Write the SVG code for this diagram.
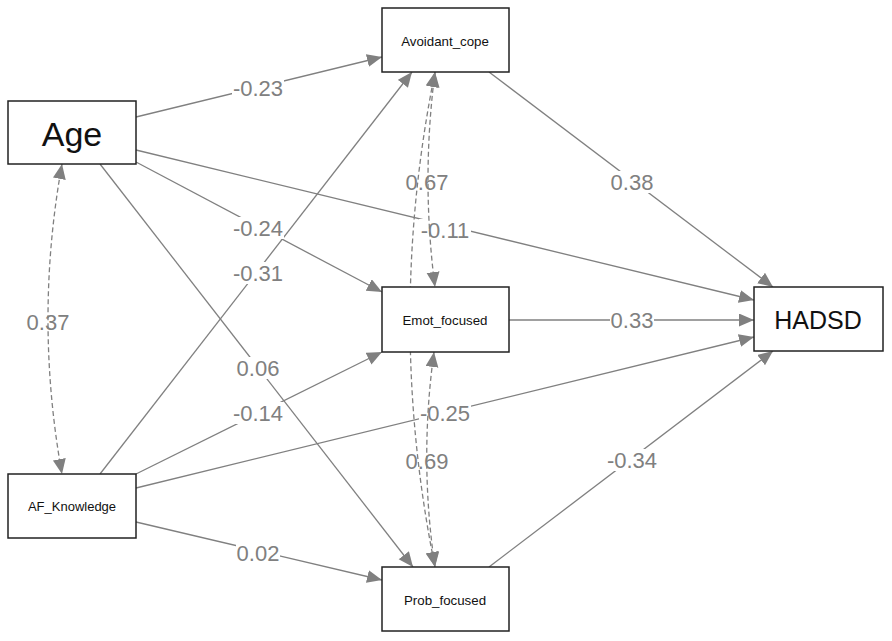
<svg xmlns="http://www.w3.org/2000/svg" width="892" height="641" viewBox="0 0 892 641">
<style>
.node{fill:#fff;stroke:#222;stroke-width:1.5}
.nt{font-family:"Liberation Sans",Arial,sans-serif;fill:#111;text-anchor:middle;dominant-baseline:central}
.e{fill:none;stroke:#808080;stroke-width:1.3}
.d{fill:none;stroke:#808080;stroke-width:1.3;stroke-dasharray:5,3}
.lb{fill:#fff}
.lt{font-family:"Liberation Sans",Arial,sans-serif;font-size:22px;fill:#808080;text-anchor:middle;dominant-baseline:central}
</style>
<defs>
<marker id="ah" markerUnits="userSpaceOnUse" markerWidth="16" markerHeight="14" refX="15" refY="6.5" orient="auto-start-reverse" viewBox="0 0 16 14">
<path d="M0,0 L15,6.5 L0,13 z" fill="#808080"/>
</marker>
</defs>
<rect width="892" height="641" fill="#fff"/>
<g id="connectors">
<line class="e" x1="136" y1="117" x2="382" y2="57" marker-end="url(#ah)"/>
<line class="e" x1="136" y1="162" x2="382" y2="292" marker-end="url(#ah)"/>
<line class="e" x1="136" y1="150" x2="754" y2="300" marker-end="url(#ah)"/>
<line class="e" x1="100" y1="164" x2="413" y2="567" marker-end="url(#ah)"/>
<line class="e" x1="100" y1="474" x2="412" y2="72" marker-end="url(#ah)"/>
<line class="e" x1="136" y1="474" x2="382" y2="352" marker-end="url(#ah)"/>
<line class="e" x1="136" y1="488" x2="754" y2="337" marker-end="url(#ah)"/>
<line class="e" x1="136" y1="522" x2="382" y2="580" marker-end="url(#ah)"/>
<line class="e" x1="489" y1="72" x2="773" y2="287" marker-end="url(#ah)"/>
<line class="e" x1="509" y1="320" x2="754" y2="320" marker-end="url(#ah)"/>
<line class="e" x1="489" y1="567" x2="773" y2="351" marker-end="url(#ah)"/>
<g id="labels">
<rect class="lb" x="232" y="77" width="52" height="22"/><text class="lt" x="258" y="88">-0.23</text>
<rect class="lb" x="232" y="217" width="52" height="22"/><text class="lt" x="258" y="228">-0.24</text>
<rect class="lb" x="419" y="219" width="52" height="22"/><text class="lt" x="445" y="230">-0.11</text>
<rect class="lb" x="232" y="262" width="52" height="22"/><text class="lt" x="258" y="273">-0.31</text>
<rect class="lb" x="236" y="357" width="44" height="22"/><text class="lt" x="258" y="368">0.06</text>
<rect class="lb" x="232" y="402" width="52" height="22"/><text class="lt" x="258" y="413">-0.14</text>
<rect class="lb" x="419" y="402" width="52" height="22"/><text class="lt" x="445" y="413">-0.25</text>
<rect class="lb" x="236" y="542" width="44" height="22"/><text class="lt" x="258" y="553">0.02</text>
<rect class="lb" x="610" y="171" width="44" height="22"/><text class="lt" x="632" y="182">0.38</text>
<rect class="lb" x="610" y="309" width="44" height="22"/><text class="lt" x="632" y="320">0.33</text>
<rect class="lb" x="606" y="449" width="52" height="22"/><text class="lt" x="632" y="460">-0.34</text>
<text class="lt" x="48" y="322">0.37</text>
<text class="lt" x="427" y="182">0.67</text>
<text class="lt" x="427" y="461">0.69</text>
</g>
<path class="d" d="M62,164 Q34,319 62,474" marker-start="url(#ah)" marker-end="url(#ah)"/>
<path class="d" d="M435,72 Q421,180 435,287" marker-start="url(#ah)" marker-end="url(#ah)"/>
<path class="d" d="M434,352 Q419,460 435,567" marker-start="url(#ah)" marker-end="url(#ah)"/>
<path class="d" d="M435,72 Q385,320 435,567" marker-start="url(#ah)" marker-end="url(#ah)"/>
</g>
<g id="Age"><rect class="node" x="8" y="101" width="128" height="63"/><text class="nt" x="72" y="134" font-size="34">Age</text></g>
<g id="AF_Knowledge"><rect class="node" x="8" y="474" width="128" height="64"/><text class="nt" x="72" y="506" font-size="13">AF_Knowledge</text></g>
<g id="Avoidant_cope"><rect class="node" x="382" y="8" width="127" height="64"/><text class="nt" x="445" y="41" font-size="13.3">Avoidant_cope</text></g>
<g id="Emot_focused"><rect class="node" x="382" y="287" width="127" height="65"/><text class="nt" x="445" y="320" font-size="13.3">Emot_focused</text></g>
<g id="Prob_focused"><rect class="node" x="382" y="567" width="127" height="64"/><text class="nt" x="445" y="600" font-size="13.3">Prob_focused</text></g>
<g id="HADSD"><rect class="node" x="754" y="287" width="129" height="64"/><text class="nt" x="818" y="320" font-size="25">HADSD</text></g>
</svg>
